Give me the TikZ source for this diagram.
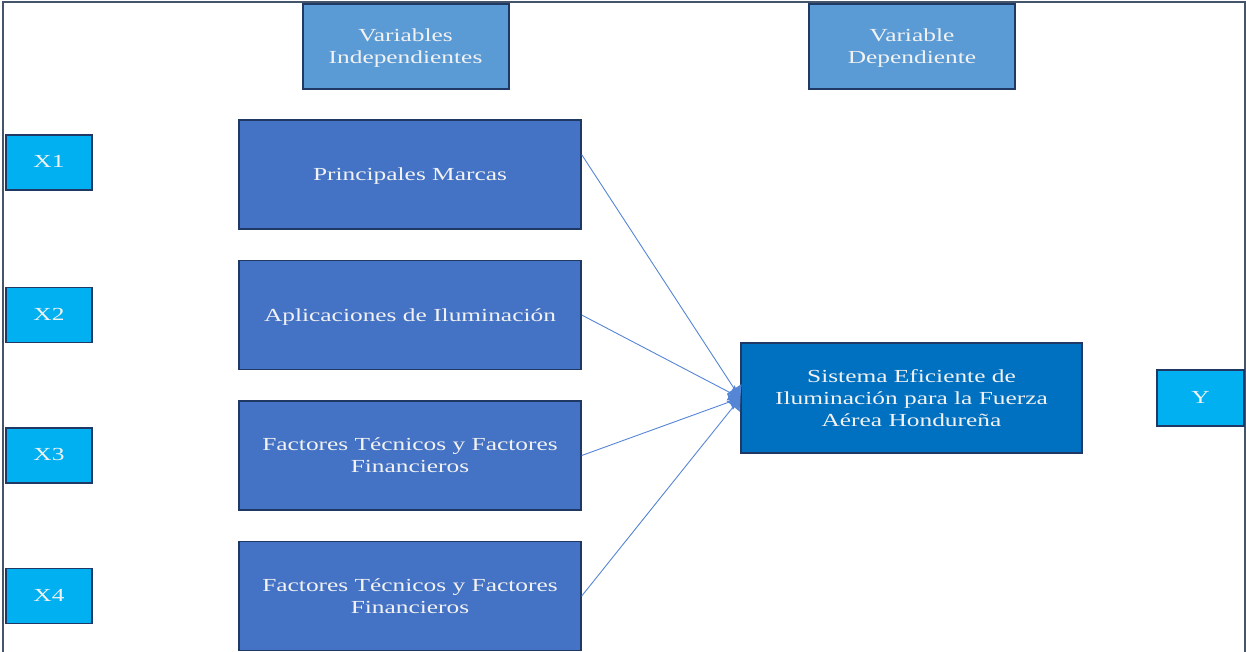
\documentclass[tikz,border=0pt]{standalone}
\usepackage{fontspec}
\setmainfont{Liberation Serif}[FakeStretch=1.38]
\usetikzlibrary{arrows.meta,calc}
\definecolor{framec}{HTML}{44546A}
\definecolor{edgec}{HTML}{1F3864}
\definecolor{hdrblue}{HTML}{5B9BD5}
\definecolor{xcyan}{HTML}{00B0F0}
\definecolor{mainblue}{HTML}{4472C4}
\definecolor{sisblue}{HTML}{0070C0}
\definecolor{linec}{HTML}{5585D5}
\definecolor{txt}{HTML}{F2F2F2}
\newcommand\boxtext[2][2pt]{\raisebox{-#1}[\height][\depth]{\begin{tabular}{@{}c@{}}#2\end{tabular}}}
\begin{document}
\begin{tikzpicture}[x=1pt,y=-1pt,
  every node/.style={font=\fontsize{18.4}{22}\selectfont, text=txt, inner sep=0pt},
  hdr/.style={draw=edgec, line width=2pt, fill=hdrblue, minimum width=206pt, minimum height=85pt},
  xbox/.style={draw=edgec, line width=1.4pt, fill=xcyan, minimum width=86pt, minimum height=55pt},
  mainbox/.style={draw=edgec, line width=1.4pt, fill=mainblue, minimum width=342pt, minimum height=109pt},
  sisbox/.style={draw=edgec, line width=1.4pt, fill=sisblue, minimum width=341pt, minimum height=110pt},
  conn/.style={draw=linec, line width=0.9pt, -{Triangle[length=11pt,width=17pt]}}]
\useasboundingbox (0,0) rectangle (1246,651);
\draw[framec, line width=1.5pt] (3,652) -- (3,2) -- (1245,2) -- (1245,652);
\node[hdr] (vi) at (405.5,46) {\boxtext[2.5pt]{Variables\\Independientes}};
\node[hdr] (vd) at (912,46) {\boxtext[2.5pt]{Variable\\Dependiente}};
\node[xbox] (x1) at (49,162.5) {\boxtext[1pt]{X1}};
\node[xbox] (x2) at (49,315) {\boxtext[1pt]{X2}};
\node[xbox] (x3) at (49,455.5) {\boxtext[1pt]{X3}};
\node[xbox] (x4) at (49,596) {\boxtext[1pt]{X4}};
\node[mainbox] (pm) at (410,174.5) {\boxtext{Principales Marcas}};
\node[mainbox] (ap) at (410,315) {\boxtext{Aplicaciones de Iluminación}};
\node[mainbox] (f1) at (410,455.5) {\boxtext{Factores Técnicos y Factores\\Financieros}};
\node[mainbox] (f2) at (410,596) {\boxtext{Factores Técnicos y Factores\\Financieros}};
\node[sisbox] (sis) at (911.5,398) {\boxtext{Sistema Eficiente de\\Iluminación para la Fuerza\\Aérea Hondureña}};
\node[xbox, minimum width=87pt, minimum height=56pt] (y) at (1200.5,398) {\boxtext[1pt]{Y}};
\coordinate (pmout) at ($(pm.north east)!0.32!(pm.south east)$);
\draw[conn] (pmout) -- (sis.west);
\draw[conn] (ap.east) -- (sis.west);
\draw[conn] (f1.east) -- (sis.west);
\draw[conn] (f2.east) -- (sis.west);
\end{tikzpicture}
\end{document}
